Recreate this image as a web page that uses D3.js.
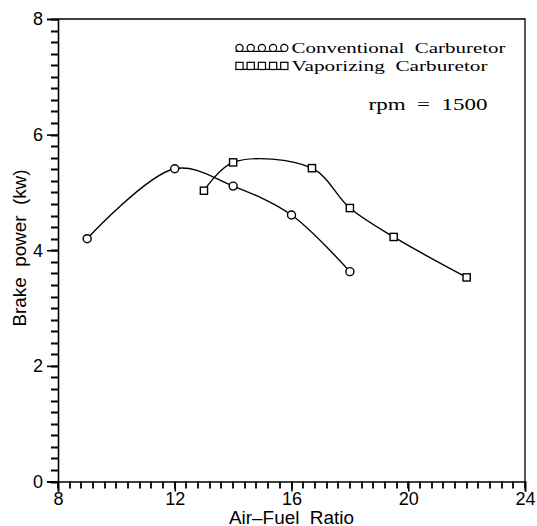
<!DOCTYPE html>
<html>
<head>
<meta charset="utf-8">
<script src="https://cdn.jsdelivr.net/npm/d3@7"></script>
<style>
  body { margin: 0; background: #fff; }
  svg { display: block; }
</style>
</head>
<body>
<div id="chart"></div>
<script>
// data
const convX = [9, 12, 14, 16, 18];
const convY = [4.2, 5.41, 5.11, 4.61, 3.63];
const vapX = [13, 14, 16.7, 18, 19.5, 22];
const vapY = [5.03, 5.52, 5.42, 4.73, 4.23, 3.53];
const xTicks = [8, 12, 16, 20, 24];
const yTicks = [0, 2, 4, 6, 8];
const legendLabels = ['Conventional  Carburetor', 'Vaporizing  Carburetor'];
const noteText = 'rpm  =  1500';

const W = 537, H = 526;
const margin = { top: 19, right: 12, bottom: 44.5, left: 58 };
const width = W - margin.left - margin.right;
const height = H - margin.top - margin.bottom;

const root = d3.select('#chart')
  .append('svg')
  .attr('width', W)
  .attr('height', H);

const svg = root.append('g')
  .attr('transform', `translate(${margin.left},${margin.top})`);

const x = d3.scaleLinear().domain([8, 24]).range([0, width]);
const y = d3.scaleLinear().domain([0, 8]).range([height, 0]);

const sans = 'Liberation Sans, Arial, sans-serif';
const serif = 'Liberation Serif, DejaVu Serif, serif';

// frame (top + right)
svg.append('path')
  .attr('d', `M0,0H${width}V${height}`)
  .attr('fill', 'none')
  .attr('stroke', '#000')
  .attr('stroke-width', 1.3);

// minor ticks: every 0.4 on x, every 0.2 on y (absolute coords on the root svg)
const xMinor = d3.range(0, 41).map(i => 8 + i * 0.4);
const yMinor = d3.range(0, 41).map(i => i * 0.2);
const ax = margin.left, ay = margin.top + height;

root.append('path')
  .attr('d', xMinor.map(v => `M${Math.round(ax + x(v))},${ay}v7`).join('') +
             yMinor.map(v => `M${ax},${Math.round(margin.top + y(v)) + 0.5}h-7`).join(''))
  .attr('fill', 'none')
  .attr('stroke', '#000')
  .attr('stroke-width', 1.8);

svg.append('g')
  .attr('transform', `translate(0,${height})`)
  .call(d3.axisBottom(x).tickValues(xTicks).tickSize(10).tickPadding(1).tickFormat(d3.format('d')));

svg.append('g')
  .call(d3.axisLeft(y).tickValues(yTicks).tickSize(11).tickPadding(4).tickFormat(d3.format('d')));

svg.selectAll('.domain').attr('stroke-width', 1.6);
svg.selectAll('.tick line').attr('stroke-width', 1.6);
svg.selectAll('.tick text')
  .style('font-family', sans)
  .style('font-size', '18px');

// axis titles
svg.append('text')
  .attr('x', x(16))
  .attr('y', height + 42)
  .attr('text-anchor', 'middle')
  .attr('textLength', 125)
  .attr('lengthAdjust', 'spacingAndGlyphs')
  .style('font-family', sans)
  .style('font-size', '18px')
  .style('white-space', 'pre')
  .text('Air\u2013Fuel  Ratio');

svg.append('text')
  .attr('transform', 'rotate(-90)')
  .attr('x', -(248 - margin.top))
  .attr('y', -32)
  .attr('text-anchor', 'middle')
  .attr('textLength', 157)
  .attr('lengthAdjust', 'spacingAndGlyphs')
  .style('font-family', sans)
  .style('font-size', '18px')
  .style('white-space', 'pre')
  .text('Brake  power  (kw)');

// curves
const line = d3.line()
  .x(d => x(d[0]))
  .y(d => y(d[1]))
  .curve(d3.curveCatmullRom.alpha(0.5));

const conv = convX.map((v, i) => [v, convY[i]]);
const vap = vapX.map((v, i) => [v, vapY[i]]);

[conv, vap].forEach(pts => {
  svg.append('path')
    .datum(pts)
    .attr('d', line)
    .attr('fill', 'none')
    .attr('stroke', '#000')
    .attr('stroke-width', 1.4);
});

svg.selectAll('.conv')
  .data(conv)
  .enter()
  .append('circle')
  .attr('cx', d => x(d[0]))
  .attr('cy', d => y(d[1]))
  .attr('r', 4)
  .attr('fill', '#fff')
  .attr('stroke', '#000')
  .attr('stroke-width', 1.4);

svg.selectAll('.vap')
  .data(vap)
  .enter()
  .append('rect')
  .attr('x', d => x(d[0]) - 3.6)
  .attr('y', d => y(d[1]) - 3.6)
  .attr('width', 7.2)
  .attr('height', 7.2)
  .attr('fill', '#fff')
  .attr('stroke', '#000')
  .attr('stroke-width', 1.4);

// legend
const legend = svg.append('g')
  .attr('transform', `translate(${x(14.15)},${y(7.5)})`);

legendLabels.forEach((label, i) => {
  const row = legend.append('g').attr('transform', `translate(0,${i * 18})`);
  row.append('line')
    .attr('x1', -2).attr('x2', 48)
    .attr('y1', 3.5).attr('y2', 3.5)
    .attr('stroke', '#000')
    .attr('stroke-width', 1.3);
  d3.range(5).forEach(k => {
    if (i === 0) {
      row.append('circle')
        .attr('cx', 2 + k * 11.2).attr('cy', 0).attr('r', 3.6)
        .attr('fill', '#fff').attr('stroke', '#000').attr('stroke-width', 1.2);
    } else {
      row.append('rect')
        .attr('x', -1.6 + k * 11.2).attr('y', -3.6).attr('width', 7.2).attr('height', 7.2)
        .attr('fill', '#fff').attr('stroke', '#000').attr('stroke-width', 1.2);
    }
  });
  row.append('text')
    .attr('x', 54)
    .attr('y', 5)
    .attr('textLength', i === 0 ? 214 : 196)
    .attr('lengthAdjust', 'spacingAndGlyphs')
    .style('font-family', serif)
    .style('font-size', '15px')
    .style('white-space', 'pre')
    .text(label);
});

svg.append('text')
  .attr('x', x(18.64))
  .attr('y', y(6.42))
  .attr('textLength', 119)
  .attr('lengthAdjust', 'spacingAndGlyphs')
  .style('font-family', serif)
  .style('font-size', '17px')
  .style('white-space', 'pre')
  .text(noteText);
</script>
</body>
</html>
